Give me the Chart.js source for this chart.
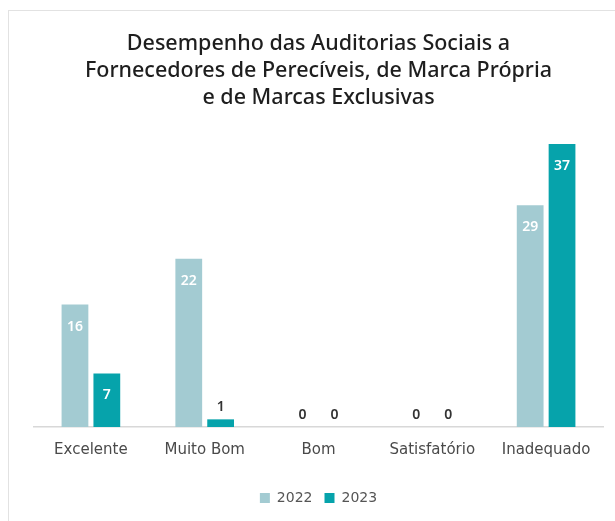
<!DOCTYPE html>
<html>
<head>
<meta charset="utf-8">
<script src="https://cdn.jsdelivr.net/npm/chart.js@4"></script>
<style>
    body { margin: 0; background: #fff; }
    #frame { position: absolute; left: 8px; top: 10px; width: 620px; height: 520px; border: 1px solid #e2e2e2; }
    #chart { position: absolute; left: 0; top: 0; }
</style>
</head>
<body>
<div id="frame"></div>
<canvas id="chart" width="615" height="521"></canvas>
<script>
const categories = ['Excelente', 'Muito Bom', 'Bom', 'Satisfatório', 'Inadequado'];
const values2022 = [16, 22, 0, 0, 29];
const values2023 = [7, 1, 0, 0, 37];
const titleLines = ['Desempenho das Auditorias Sociais a', 'Fornecedores de Perecíveis, de Marca Própria', 'e de Marcas Exclusivas'];

// value labels: white inside tall bars, dark above short ones
const barLabels = {
    id: 'barLabels',
    afterDatasetsDraw(chart) {
        const ctx = chart.ctx;
        ctx.save();
        ctx.textAlign = 'center';
        ctx.textBaseline = 'middle';
        ctx.font = '600 14px "Noto Sans", sans-serif';
        chart.data.datasets.forEach((ds, i) => {
            chart.getDatasetMeta(i).data.forEach((bar, j) => {
                const v = ds.data[j];
                const h = bar.base - bar.y;
                if (h > 30) {
                    ctx.fillStyle = '#ffffff';
                    ctx.fillText(v, bar.x, bar.y + 22);
                } else {
                    ctx.fillStyle = '#333333';
                    ctx.fillText(v, bar.x, bar.y - 12);
                }
            });
        });
        ctx.restore();
    }
};

new Chart(document.getElementById('chart'), {
    type: 'bar',
    data: {
        labels: categories,
        datasets: [
            { label: '2022', data: values2022, backgroundColor: '#a3cbd2' },
            { label: '2023', data: values2023, backgroundColor: '#06a3ab' }
        ]
    },
    options: {
        responsive: false,
        animation: false,
        categoryPercentage: 0.56,
        barPercentage: 0.84,
        layout: { padding: { top: 20, left: 34, right: 12, bottom: 6 } },
        plugins: {
            title: {
                display: true,
                text: titleLines,
                color: '#1e1e1e',
                font: { family: '"Noto Sans", sans-serif', size: 21.5, weight: '500', lineHeight: 1.256 },
                padding: { top: 10, bottom: 10 }
            },
            legend: {
                position: 'bottom',
                labels: {
                    boxWidth: 10,
                    boxHeight: 10,
                    padding: 12,
                    color: '#555',
                    font: { family: '"DejaVu Sans", sans-serif', size: 14 }
                }
            },
            tooltip: { enabled: false }
        },
        scales: {
            x: {
                afterFit: scale => { scale.height = 52; },
                grid: { display: false, drawTicks: false },
                border: { color: '#d8d8d8', width: 1.5 },
                ticks: { color: '#4a4a4a', padding: 14, font: { family: '"DejaVu Sans", sans-serif', size: 15 } }
            },
            y: {
                display: false,
                min: 0,
                max: 40
            }
        }
    },
    plugins: [barLabels]
});
</script>
</body>
</html>
